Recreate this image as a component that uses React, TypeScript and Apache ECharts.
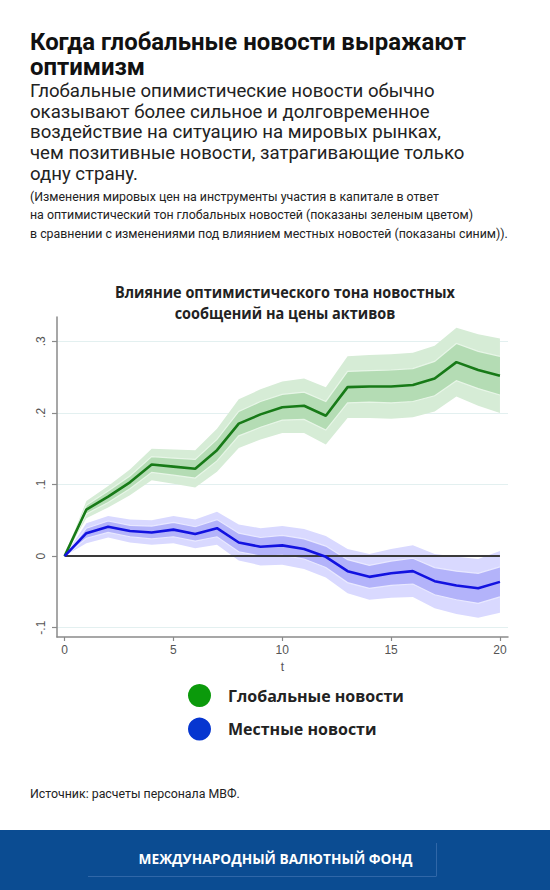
import React, { useEffect, useRef } from 'react';
import * as echarts from 'echarts';

// ---- data ----
const T = [0, 1, 2, 3, 4, 5, 6, 7, 8, 9, 10, 11, 12, 13, 14, 15, 16, 17, 18, 19, 20];

const GLOBAL = [0, 0.065, 0.083, 0.103, 0.128, 0.125, 0.122, 0.148, 0.185, 0.198, 0.208, 0.21, 0.196, 0.236, 0.237, 0.237, 0.239, 0.248, 0.271, 0.26, 0.252];
const GLOBAL_OUTER_HI = [0, 0.077, 0.098, 0.121, 0.15, 0.149, 0.148, 0.178, 0.219, 0.233, 0.244, 0.248, 0.236, 0.279, 0.281, 0.282, 0.284, 0.294, 0.319, 0.31, 0.304];
const GLOBAL_OUTER_LO = [0, 0.053, 0.068, 0.085, 0.106, 0.101, 0.096, 0.118, 0.151, 0.163, 0.172, 0.172, 0.156, 0.193, 0.193, 0.192, 0.194, 0.202, 0.223, 0.21, 0.2];
const GLOBAL_INNER_HI = [0, 0.071, 0.091, 0.112, 0.139, 0.137, 0.135, 0.163, 0.202, 0.216, 0.226, 0.229, 0.216, 0.258, 0.259, 0.26, 0.262, 0.272, 0.297, 0.286, 0.279];
const GLOBAL_INNER_LO = [0, 0.059, 0.075, 0.094, 0.117, 0.113, 0.109, 0.133, 0.168, 0.18, 0.19, 0.191, 0.176, 0.214, 0.215, 0.214, 0.216, 0.224, 0.245, 0.234, 0.225];

const LOCAL = [0, 0.032, 0.041, 0.035, 0.033, 0.037, 0.031, 0.039, 0.019, 0.013, 0.015, 0.01, -0.001, -0.021, -0.029, -0.024, -0.021, -0.035, -0.041, -0.045, -0.036];
const LOCAL_OUTER_HI = [0, 0.046, 0.056, 0.051, 0.05, 0.056, 0.051, 0.062, 0.044, 0.039, 0.042, 0.038, 0.028, 0.01, 0.003, 0.01, 0.015, 0.003, -0.001, -0.004, 0.007];
const LOCAL_OUTER_LO = [0, 0.018, 0.026, 0.019, 0.016, 0.018, 0.011, 0.016, -0.006, -0.013, -0.012, -0.018, -0.03, -0.052, -0.061, -0.058, -0.057, -0.073, -0.081, -0.086, -0.079];
const LOCAL_INNER_HI = [0, 0.039, 0.049, 0.043, 0.042, 0.047, 0.041, 0.051, 0.032, 0.026, 0.029, 0.024, 0.014, -0.005, -0.013, -0.007, -0.003, -0.016, -0.021, -0.024, -0.015];
const LOCAL_INNER_LO = [0, 0.025, 0.033, 0.027, 0.024, 0.027, 0.021, 0.027, 0.006, 0.0, 0.001, -0.004, -0.016, -0.037, -0.045, -0.041, -0.039, -0.054, -0.061, -0.066, -0.057];

const X_TICKS = [0, 5, 10, 15, 20];
const Y_TICKS = [-0.1, 0, 0.1, 0.2, 0.3];
const GRID_VALUES = [-0.1, 0.1, 0.2, 0.3];

const TITLE_LINES = ['Когда глобальные новости выражают', 'оптимизм'];
const SUBTITLE_LINES = [
  'Глобальные опимистические новости обычно',
  'оказывают более сильное и долговременное',
  'воздействие на ситуацию на мировых рынках,',
  'чем позитивные новости, затрагивающие только',
  'одну страну.',
];
const NOTE_LINES = [
  '(Изменения мировых цен на инструменты участия в капитале в ответ',
  'на оптимистический тон глобальных новостей (показаны зеленым цветом)',
  'в сравнении с изменениями под влиянием местных новостей (показаны синим)).',
];
const CHART_TITLE_LINES = ['Влияние оптимистического тона новостных', 'сообщений на цены активов'];
const LEGEND_NAMES = ['Глобальные новости', 'Местные новости'];
const SOURCE_TEXT = 'Источник: расчеты персонала МВФ.';
const FOOTER_TEXT = 'МЕЖДУНАРОДНЫЙ ВАЛЮТНЫЙ ФОНД';

function fmtY(v: number): string {
  if (v === 0) return '0';
  const s = String(Math.abs(Math.round(v * 10) / 10)).replace(/^0/, '');
  return (v < 0 ? '-' : '') + s;
}

function bandSeries(lo: number[], hi: number[], fill: string, edge: string | null, z: number) {
  return {
    type: 'custom',
    coordinateSystem: 'cartesian2d',
    silent: true,
    z,
    data: T.map((t, i) => [t, lo[i], hi[i]]),
    encode: { x: 0, y: [1, 2] },
    renderItem: (params: any, api: any) => {
      if (params.dataIndex !== 0) return null;
      const upper = T.map((t, i) => api.coord([t, hi[i]]));
      const lower = T.map((t, i) => api.coord([t, lo[i]]));
      const children: any[] = [
        { type: 'polygon', shape: { points: upper.concat(lower.slice().reverse()) }, style: { fill } },
      ];
      if (edge) {
        children.push({ type: 'polyline', shape: { points: upper }, style: { stroke: edge, lineWidth: 1.2, fill: null } });
        children.push({ type: 'polyline', shape: { points: lower }, style: { stroke: edge, lineWidth: 1.2, fill: null } });
      }
      return { type: 'group', children };
    },
  };
}

export default function App() {
  const ref = useRef<HTMLDivElement>(null);

  useEffect(() => {
    if (!ref.current) return;
    const canvas = document.createElement('canvas');
    const ctx = canvas.getContext('2d') as CanvasRenderingContext2D;
    const measure = (text: string, font: string) => {
      ctx.font = font;
      return ctx.measureText(text).width || 1;
    };
    const clamp = (v: number, a: number, b: number) => Math.max(a, Math.min(b, v));

    const titleFont = 'bold 23px Roboto';
    const titleScale = clamp(436 / measure(TITLE_LINES[0], titleFont), 0.9, 1.1);

    const noteFont = '12px Roboto';
    const noteScale = clamp(478 / measure(NOTE_LINES[2], noteFont), 0.7, 1.2);

    const ctFont = 'bold 16px "Open Sans"';
    const ctScale = clamp(340 / measure(CHART_TITLE_LINES[0], ctFont), 0.7, 1.2);

    const legendFs = clamp(16 * 176 / measure(LEGEND_NAMES[0], 'bold 16px "Open Sans"'), 12, 20);

    const footFs = clamp(14 * 274 / measure(FOOTER_TEXT, 'bold 14px "Open Sans"'), 10, 18);

    const chart = echarts.init(ref.current, null, { renderer: 'svg' });

    const graphic: any[] = [];
    TITLE_LINES.forEach((s, i) =>
      graphic.push({ type: 'text', x: 30, y: 42 + i * 25.5, scaleX: titleScale, silent: true, style: { text: s, font: titleFont, fill: '#111', align: 'left', verticalAlign: 'middle' } })
    );
    SUBTITLE_LINES.forEach((s, i) =>
      graphic.push({ type: 'text', x: 30, y: 91 + i * 20.7, silent: true, style: { text: s, font: '18.6px Roboto', fill: '#222', align: 'left', verticalAlign: 'middle' } })
    );
    NOTE_LINES.forEach((s, i) =>
      graphic.push({ type: 'text', x: 30, y: 197 + i * 18.5, scaleX: noteScale, silent: true, style: { text: s, font: noteFont, fill: '#222', align: 'left', verticalAlign: 'middle' } })
    );
    CHART_TITLE_LINES.forEach((s, i) =>
      graphic.push({ type: 'text', x: 285, y: 291.5 + i * 21, scaleX: ctScale, silent: true, style: { text: s, font: ctFont, fill: '#222', align: 'center', verticalAlign: 'middle' } })
    );
    graphic.push({ type: 'text', x: 30, y: 794, scaleX: noteScale, silent: true, style: { text: SOURCE_TEXT, font: noteFont, fill: '#222', align: 'left', verticalAlign: 'middle' } });
    graphic.push({ type: 'rect', x: 0, y: 830, silent: true, shape: { width: 550, height: 60 }, style: { fill: '#0b4c92' } });
    graphic.push({ type: 'line', silent: true, shape: { x1: 88, y1: 876.5, x2: 436, y2: 876.5 }, style: { stroke: '#3067a8', lineWidth: 1 } });
    graphic.push({ type: 'line', silent: true, shape: { x1: 436.5, y1: 843, x2: 436.5, y2: 876.5 }, style: { stroke: '#3067a8', lineWidth: 1 } });
    graphic.push({ type: 'text', x: 275.5, y: 858.5, silent: true, style: { text: FOOTER_TEXT, font: `bold ${footFs}px "Open Sans"`, fill: '#ffffff', align: 'center', verticalAlign: 'middle' } });

    const axisGray = '#8a8a8a';
    const labelGray = '#555555';

    const option: any = {
      animation: false,
      backgroundColor: '#ffffff',
      graphic,
      legend: {
        orient: 'vertical',
        left: 188,
        top: 684,
        padding: 0,
        itemWidth: 23,
        itemHeight: 23,
        itemGap: 10.6,
        icon: 'circle',
        selectedMode: false,
        textStyle: { fontFamily: '"Open Sans"', fontWeight: 'bold', fontSize: legendFs, color: '#222', padding: [0, 0, 0, 12] },
        data: [
          { name: LEGEND_NAMES[0], itemStyle: { color: '#0b9a0b' } },
          { name: LEGEND_NAMES[1], itemStyle: { color: '#0636d0' } },
        ],
      },
      grid: { left: 57, top: 317, width: 451, height: 320, containLabel: false },
      xAxis: {
        type: 'value',
        min: -0.35,
        max: 20.37,
        name: 't',
        nameLocation: 'middle',
        nameGap: 24,
        nameTextStyle: { color: labelGray, fontSize: 12, fontFamily: '"Liberation Sans"' },
        axisLine: { show: true, onZero: false, lineStyle: { color: axisGray, width: 1.5 } },
        axisTick: { show: true, customValues: X_TICKS, length: 4, lineStyle: { color: axisGray, width: 1.2 } },
        axisLabel: { customValues: X_TICKS, color: labelGray, fontSize: 12, margin: 7, fontFamily: '"Liberation Sans"' },
        splitLine: { show: false },
      },
      yAxis: {
        type: 'value',
        min: -0.113,
        max: 0.334,
        axisLine: { show: true, onZero: false, lineStyle: { color: axisGray, width: 1.5 } },
        axisTick: { show: true, customValues: Y_TICKS, length: 5, lineStyle: { color: axisGray, width: 1.2 } },
        axisLabel: { customValues: Y_TICKS, rotate: 90, formatter: fmtY, color: labelGray, fontSize: 12, margin: 10, fontFamily: '"Liberation Sans"' },
        splitLine: { show: false },
      },
      series: [
        bandSeries(GLOBAL_OUTER_LO, GLOBAL_OUTER_HI, '#d6ecd6', null, 1),
        bandSeries(GLOBAL_INNER_LO, GLOBAL_INNER_HI, '#b4dcb4', 'rgba(235,247,235,0.9)', 1),
        bandSeries(LOCAL_OUTER_LO, LOCAL_OUTER_HI, '#d9d9ff', null, 1),
        bandSeries(LOCAL_INNER_LO, LOCAL_INNER_HI, '#b3b3fa', 'rgba(236,236,255,0.9)', 1),
        {
          type: 'line',
          name: 'zero',
          data: [[T[0], 0], [T[T.length - 1], 0]],
          symbol: 'none',
          silent: true,
          z: 2,
          lineStyle: { color: '#3a3a3a', width: 2 },
          markLine: {
            silent: true,
            symbol: 'none',
            z: 0,
            label: { show: false },
            lineStyle: { color: '#e3f0f0', width: 1, type: 'solid' },
            data: GRID_VALUES.map((v) => ({ yAxis: v })),
          },
        },
        {
          type: 'line',
          name: LEGEND_NAMES[0],
          data: T.map((t, i) => [t, GLOBAL[i]]),
          symbol: 'none',
          z: 3,
          lineStyle: { color: '#177a17', width: 2.6 },
          itemStyle: { color: '#0b9a0b' },
        },
        {
          type: 'line',
          name: LEGEND_NAMES[1],
          data: T.map((t, i) => [t, LOCAL[i]]),
          symbol: 'none',
          z: 3,
          lineStyle: { color: '#1212e0', width: 2.6 },
          itemStyle: { color: '#0636d0' },
        },
      ],
    };

    chart.setOption(option);
    return () => chart.dispose();
  }, []);

  return (
    <div
      ref={ref}
      style={{ position: 'absolute', left: 0, top: 0, width: 550, height: 890, background: '#fff' }}
    />
  );
}
